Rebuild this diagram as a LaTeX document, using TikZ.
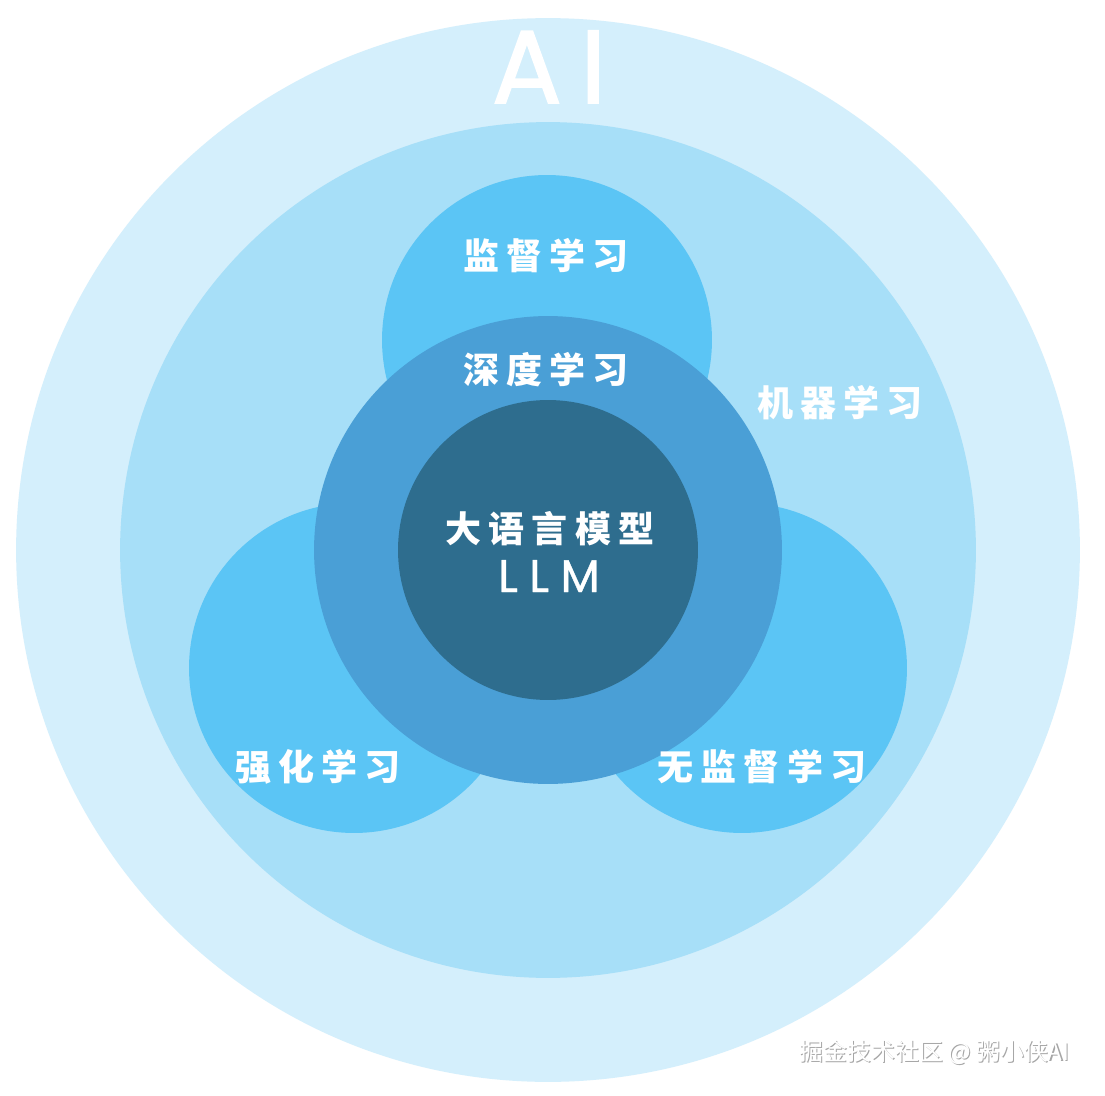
\documentclass[tikz,border=0pt]{standalone}
\usepackage{fontspec}
\newfontfamily\cjk[LetterSpace=20]{Noto Sans CJK SC}
\newfontfamily\cjkplain{Noto Sans CJK SC}
\newfontfamily\geo[LetterSpace=18,FakeBold=1.6]{Poppins}
\newfontfamily\geols[LetterSpace=25,FakeBold=0.8]{Poppins}
\definecolor{aiC}{HTML}{D4EFFC}
\definecolor{mlC}{HTML}{A7DFF8}
\definecolor{smC}{HTML}{5BC5F5}
\definecolor{dlC}{HTML}{4A9FD6}
\definecolor{llmC}{HTML}{2E6D8E}
\tikzset{
  disc/.style={circle, inner sep=0pt, draw=none},
  lbl/.style={text=white, inner sep=0pt, font=\cjk\bfseries\fontsize{20.5}{24}\selectfont},
}
\begin{document}
\begin{tikzpicture}[x=0.02cm,y=-0.02cm]
\useasboundingbox[fill=white] (0,0) rectangle (1105,1095);
\node[disc, fill=aiC, minimum size=21.28cm] (ai) at (548,550) {};
\node[disc, fill=mlC, minimum size=17.12cm] (ml) at (548,550) {};
\node[disc, fill=smC, minimum size=6.6cm] (sup) at (547,340) {};
\node[disc, fill=smC, minimum size=6.6cm] (rl) at (354,668) {};
\node[disc, fill=smC, minimum size=6.6cm] (unsup) at (742,668) {};
\node[disc, fill=dlC, minimum size=9.36cm] (dl) at (548,550) {};
\node[disc, fill=llmC, minimum size=6.0cm] (llm) at (548,550) {};

\node[text=white, inner sep=0pt, anchor=base, font=\geo\fontsize{59}{60}\selectfont] (aiT) at (549,103) {AI};
\node[lbl] (supT) at (546,256) {监督学习};
\node[lbl] (dlT) at (546,370) {深度学习};
\node[lbl] (mlT) at (840,403) {机器学习};
\node[lbl] (llmT) at (550,529) {大语言模型};
\node[text=white, inner sep=0pt, anchor=base, font=\geols\fontsize{26}{28}\selectfont] (llmT2) at (549,592) {LLM};
\node[lbl] (rlT) at (318,767) {强化学习};
\node[lbl] (unsupT) at (762,767) {无监督学习};

\node[text=gray!70, inner sep=0pt, font=\cjkplain\fontsize{13.6}{15}\selectfont] (wmS) at (935.8,1053.2) {掘金技术社区 @ 粥小侠AI};
\node[text=white, inner sep=0pt, font=\cjkplain\fontsize{13.6}{15}\selectfont] (wm) at (934.5,1052) {掘金技术社区 @ 粥小侠AI};
\end{tikzpicture}
\end{document}
